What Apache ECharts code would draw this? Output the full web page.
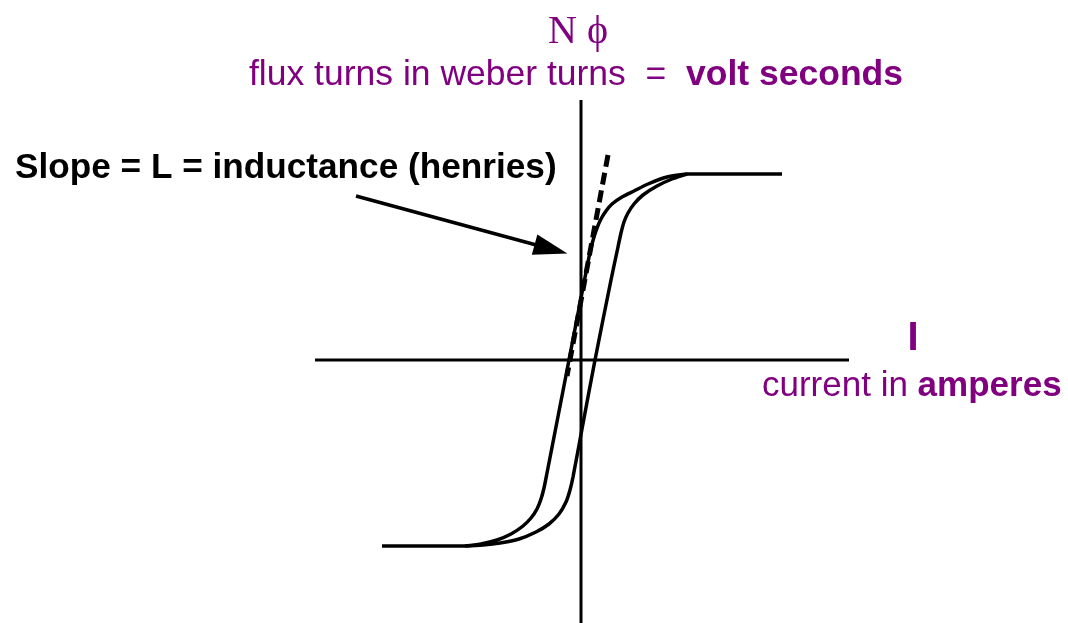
<!DOCTYPE html>
<html>
<head>
<meta charset="utf-8">
<script src="https://cdn.jsdelivr.net/npm/echarts@6/dist/echarts.min.js"></script>
<style>
    html, body { margin: 0; padding: 0; background: #fff; }
    #chart { width: 1068px; height: 623px; }
</style>
</head>
<body>
<div id="chart"></div>
<script>
// units: one unit = one pixel of the original sketch, origin at the axes crossing
const axisH = [[-266, 0], [268, 0]];
const axisV = [[0, 260], [0, -263]];
const satTop = [[106, 186], [201, 186]];
const satBottom = [[-199, -186], [-116, -186]];
// branch crossing the current axis on the left
const branchLeft = [
    [-116, -186], [-100, -184], [-84, -180], [-70, -174], [-58, -166], [-50, -158],
    [-44, -149], [-40, -139], [-37, -128], [-34, -113], [-12, 0], [7, 98],
    [10, 112], [13, 123], [16, 132], [20, 141], [25, 149], [31, 156], [41, 163],
    [53, 169], [67, 176], [86, 183], [106, 186]
];
// branch crossing the current axis on the right
const branchRight = [
    [-116, -186], [-98, -185], [-81, -183], [-62, -179], [-45, -172], [-32, -164],
    [-22, -154], [-15, -142], [-11, -130], [-8, -117], [1, -69], [14, 0],
    [30, 80], [37, 113], [40, 127], [43, 138], [47, 147], [53, 156],
    [62, 165], [76, 174], [91, 181], [106, 186]
];
// tangent line giving the slope
const slopeLine = [[27, 205], [-14, -16]];
// pointer arrow from the label towards the tangent
const arrowFrom = [-225, 164];
const arrowTo = [-30, 111];

const purple = '#800080';
const chart = echarts.init(document.getElementById('chart'));

function straight(data, width) {
    return {
        type: 'line',
        data: data,
        showSymbol: false,
        silent: true,
        lineStyle: { color: '#000', width: width }
    };
}

const option = {
    animation: false,
    backgroundColor: '#fff',
    grid: { left: 0, right: 0, top: 0, bottom: 0 },
    xAxis: { type: 'value', min: -581, max: 487, show: false },
    yAxis: { type: 'value', min: -263, max: 360, show: false },
    series: [
        straight(axisH, 3),
        straight(axisV, 3),
        straight(satTop, 3.5),
        straight(satBottom, 3.5),
        Object.assign(straight(branchLeft, 3.5), { smooth: 0.3 }),
        Object.assign(straight(branchRight, 3.5), { smooth: 0.3 }),
        {
            type: 'line',
            data: slopeLine,
            showSymbol: false,
            silent: true,
            lineStyle: { color: '#000', width: 5, type: [12, 6] },
            markLine: {
                silent: true,
                symbol: ['none', 'triangle'],
                label: { show: false },
                lineStyle: { color: '#000', width: 3.5, type: 'solid' },
                data: [[
                    { coord: arrowFrom, symbol: 'none' },
                    { coord: arrowTo, symbol: 'triangle', symbolSize: [21, 34] }
                ]]
            }
        }
    ],
    graphic: [
        {
            type: 'text', x: 578, y: 32,
            style: {
                text: 'N \u03D5', fill: purple,
                font: '40px "Liberation Serif", "DejaVu Serif", serif',
                textAlign: 'center', textVerticalAlign: 'middle'
            }
        },
        {
            type: 'text', x: 249, y: 75,
            style: {
                text: '{a|flux turns in weber turns  =  }{b|volt seconds}',
                textAlign: 'left', textVerticalAlign: 'middle',
                rich: {
                    a: { fill: purple, font: '35.5px "Liberation Sans", Arial, sans-serif' },
                    b: { fill: purple, font: 'bold 35.5px "Liberation Sans", Arial, sans-serif' }
                }
            }
        },
        {
            type: 'text', x: 15, y: 168,
            style: {
                text: 'Slope = L = inductance (henries)', fill: '#000',
                font: 'bold 35.2px "Liberation Sans", Arial, sans-serif',
                textAlign: 'left', textVerticalAlign: 'middle'
            }
        },
        {
            type: 'text', x: 913, y: 339,
            style: {
                text: 'I', fill: purple,
                font: 'bold 40px "Liberation Sans", Arial, sans-serif',
                textAlign: 'center', textVerticalAlign: 'middle'
            }
        },
        {
            type: 'text', x: 762, y: 386,
            style: {
                text: '{a|current in }{b|amperes}',
                textAlign: 'left', textVerticalAlign: 'middle',
                rich: {
                    a: { fill: purple, font: '35px "Liberation Sans", Arial, sans-serif' },
                    b: { fill: purple, font: 'bold 35px "Liberation Sans", Arial, sans-serif' }
                }
            }
        }
    ]
};

chart.setOption(option);
window.addEventListener('resize', () => chart.resize());
</script>
</body>
</html>
